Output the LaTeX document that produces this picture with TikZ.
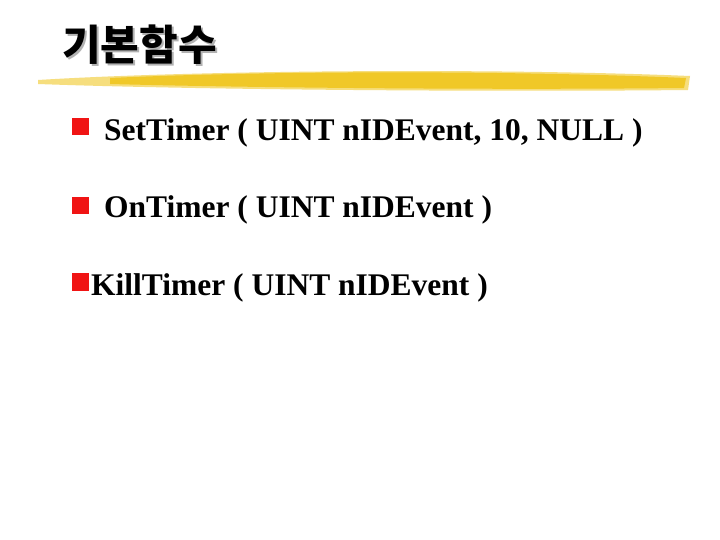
\documentclass[tikz,border=0pt]{standalone}
\usepackage{fontspec}
\setmainfont{Liberation Serif}
\newfontfamily\kr{Noto Sans CJK KR}
\definecolor{brush}{RGB}{240,200,40}
\definecolor{bullred}{RGB}{240,20,20}
\begin{document}
\begin{tikzpicture}[x=1pt,y=-1pt,
  item/.style={anchor=base west,inner sep=0pt,font=\fontsize{31.5}{34}\selectfont\bfseries},
  bul/.style={fill=bullred,draw=none}]
\useasboundingbox (0,0) rectangle (720,540);
\fill[white] (0,0) rectangle (720,540);
% brush stroke
\fill[brush!60] (38,80) .. controls (200,70) and (500,68) .. (690,76) -- (688,90) .. controls (500,92) and (200,90) .. (38,84) -- cycle;
\fill[brush] (110,78) .. controls (260,71) and (500,70) .. (686,78) -- (684,88) .. controls (500,90) and (260,88) .. (110,84) -- cycle;
% title
\node[anchor=base west,inner sep=0pt,font=\kr\bfseries\fontsize{42}{44}\selectfont,text=gray!60] (tsh) at (64,63) {기본함수};
\node[anchor=base west,inner sep=0pt,font=\kr\bfseries\fontsize{42}{44}\selectfont] (title) at (62,61) {기본함수};
% bullets
\fill[bul] (72,118) rectangle (89,135);
\node[item] (i1) at (104,141) {SetTimer ( UINT nIDEvent, 10, NULL )};
\fill[bul] (72,197) rectangle (89,214);
\node[item] (i2) at (104,218) {OnTimer ( UINT nIDEvent )};
\fill[bul] (72,273) rectangle (89,291);
\node[item] (i3) at (91,295) {KillTimer ( UINT nIDEvent )};
\end{tikzpicture}
\end{document}
